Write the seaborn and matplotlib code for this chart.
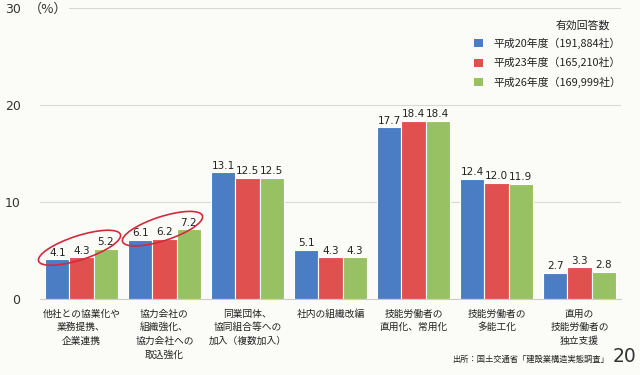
import matplotlib
matplotlib.use("Agg")
import matplotlib.pyplot as plt
import seaborn as sns
import pandas as pd
import numpy as np
from matplotlib.patches import Ellipse, Patch
from matplotlib.transforms import IdentityTransform

categories = [
    "他社との協業化や\n業務提携、\n企業連携",
    "協力会社の\n組織強化、\n協力会社への\n取込強化",
    "同業団体、\n協同組合等への\n加入（複数加入）",
    "社内の組織改編",
    "技能労働者の\n直用化、常用化",
    "技能労働者の\n多能工化",
    "直用の\n技能労働者の\n独立支援",
]
series_names = ["平成20年度（191,884社）", "平成23年度（165,210社）", "平成26年度（169,999社）"]
h20 = [4.1, 6.1, 13.1, 5.1, 17.7, 12.4, 2.7]
h23 = [4.3, 6.2, 12.5, 4.3, 18.4, 12.0, 3.3]
h26 = [5.2, 7.2, 12.5, 4.3, 18.4, 11.9, 2.8]
yticks = [0, 10, 20, 30]
colors = ["#4a7dc4", "#e0504f", "#98c163"]
highlight_groups = [0, 1]
ellipse_sizes = [(86, 24), (84, 24)]

rows = []
for name, vals in zip(series_names, [h20, h23, h26]):
    for c, v in zip(categories, vals):
        rows.append({"cat": c, "series": name, "value": v})
df = pd.DataFrame(rows)

sns.set_theme(style="white")
plt.rcParams["font.family"] = ["Noto Sans CJK JP", "DejaVu Sans"]
bg = "#fbfbf8"
fig = plt.figure(figsize=(6.4, 3.75), dpi=100, facecolor=bg)
ax = fig.add_axes([40 / 640, 1 - 299 / 375, (621 - 40) / 640, (299 - 8) / 375])
ax.set_facecolor(bg)

sns.barplot(data=df, x="cat", y="value", hue="series", order=categories,
            hue_order=series_names, palette=colors, width=0.87, gap=0,
            edgecolor="white", linewidth=0.8, saturation=1, legend=False, ax=ax)

for cont in ax.containers:
    ax.bar_label(cont, fmt="%.1f", fontsize=7.5, padding=1, color="#222222",
                 family=["DejaVu Sans"])

ax.set_xlim(-0.5, len(categories) - 0.5)
ax.set_ylim(0, 30)
ax.set_yticks(yticks)
ax.set_yticklabels([str(t) for t in yticks], fontsize=9, color="#333333",
                   family=["DejaVu Sans"])
ax.yaxis.grid(True, color="#d8d8d8", linewidth=0.8)
ax.set_axisbelow(True)
ax.tick_params(axis="both", length=0)
ax.tick_params(axis="y", pad=14)
ax.tick_params(axis="x", pad=7)
ax.set_xlabel("")
ax.set_ylabel("")
for s in ["top", "right", "left"]:
    ax.spines[s].set_visible(False)
ax.spines["bottom"].set_color("#cccccc")
ax.spines["bottom"].set_linewidth(0.8)
for lab in ax.get_xticklabels():
    lab.set_fontsize(7)
    lab.set_color("#222222")
    lab.set_linespacing(1.45)
    lab.set_verticalalignment("top")

# "(%)" unit next to top tick
ax.text(-0.63, 29.5, "（%）", fontsize=9.5, color="#333333", ha="left", va="baseline",
        transform=ax.transData,
        bbox=dict(facecolor=bg, edgecolor="none", pad=1))

# legend (title drawn separately, right aligned)
handles = [Patch(facecolor=c, edgecolor="none") for c in colors]
leg = fig.legend(handles, series_names, loc="upper right",
                 bbox_to_anchor=(631 / 640, 1 - 28 / 375), frameon=False,
                 fontsize=7.8, handlelength=0.8, handleheight=0.8,
                 handletextpad=1.0, labelspacing=0.75)
for t in leg.get_texts():
    t.set_color("#222222")
fig.text(610 / 640, 1 - 25 / 375, "有効回答数", fontsize=7.8, color="#222222",
         ha="right", va="center")

# red ellipses around highlighted groups
fig.canvas.draw()
for g, (w, h) in zip(highlight_groups, ellipse_sizes):
    vals = [h20[g], h23[g], h26[g]]
    cx, cy = ax.transData.transform((g, np.mean(vals) + 0.75))
    e = Ellipse((cx - 2, cy), width=w, height=h, angle=18, fill=False,
                edgecolor="#d42a3a", linewidth=1.2, transform=IdentityTransform(),
                clip_on=False)
    fig.patches.append(e)

fig.text(609 / 640, 1 - 359 / 375, "出所：国土交通省「建設業構造実態調査」", fontsize=5.95,
         color="#222222", ha="right", va="center")
fig.text(636 / 640, 1 - 357 / 375, "20", fontsize=13.5, color="#333333", ha="right",
         va="center", family=["DejaVu Sans"])

fig.savefig("out.png", dpi=100, facecolor=bg)
